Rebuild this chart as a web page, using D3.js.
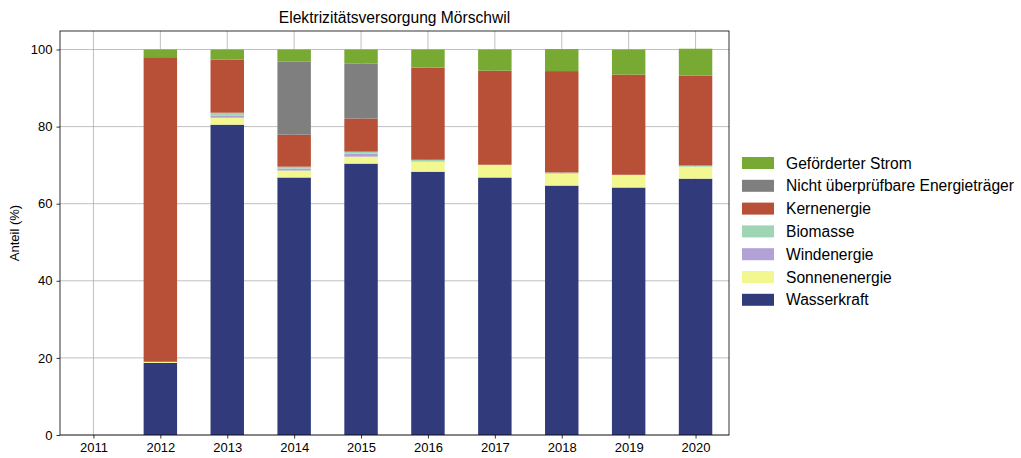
<!DOCTYPE html>
<html>
<head>
<meta charset="utf-8">
<script src="https://cdn.jsdelivr.net/npm/d3@7"></script>
<style>
  body { margin: 0; background: #fff; }
  text { font-family: "Liberation Sans", Arial, sans-serif; fill: #000; }
</style>
</head>
<body>
<svg id="chart"></svg>
<script>
const years = ["2011", "2012", "2013", "2014", "2015", "2016", "2017", "2018", "2019", "2020"];
const seriesNames = ["Wasserkraft", "Sonnenenergie", "Windenergie", "Biomasse", "Kernenergie", "Nicht überprüfbare Energieträger", "Geförderter Strom"];
const seriesColors = ["#313b7c", "#f2f78f", "#b2a1d5", "#9ed6b5", "#b84f37", "#7f7f7f", "#77a933"];

const wasserkraft   = [0, 18.7, 80.5, 66.8, 70.4, 68.3, 66.8, 64.7, 64.2, 66.5];
const sonnenenergie = [0, 0.3, 1.8, 1.8, 1.8, 2.6, 3.3, 3.1, 3.3, 3.1];
const windenergie   = [0, 0, 0.6, 0.5, 0.8, 0, 0, 0, 0, 0];
const biomasse      = [0, 0, 0.7, 0.5, 0.5, 0.5, 0, 0.3, 0, 0.3];
const kernenergie   = [0, 79.0, 13.8, 8.3, 8.6, 23.9, 24.4, 26.3, 26.0, 23.3];
const nichtUeberpr  = [0, 0, 0, 19.0, 14.3, 0, 0, 0, 0, 0];
const gefoerdert    = [0, 2.0, 2.6, 3.1, 3.6, 4.7, 5.5, 5.7, 6.5, 7.0];
const yTicks = [0, 20, 40, 60, 80, 100];

const seriesValues = [wasserkraft, sonnenenergie, windenergie, biomasse, kernenergie, nichtUeberpr, gefoerdert];

const W = 1021, H = 458;
const margin = { top: 31, right: 292, bottom: 23, left: 60 },
    width = W - margin.left - margin.right,
    height = H - margin.top - margin.bottom;

const root = d3.select("#chart").attr("width", W).attr("height", H);
const svg = root.append("g")
    .attr("transform", "translate(" + margin.left + "," + margin.top + ")");

// build rows for stacking
const rows = years.map((yr, i) => {
    const r = { year: yr };
    seriesNames.forEach((s, k) => { r[s] = seriesValues[k][i]; });
    return r;
});
const stacked = d3.stack().keys(seriesNames)(rows);

const x = d3.scalePoint().domain(years).range([0, width]).padding(0.5);
const barW = x.step() * 0.5;
const y = d3.scaleLinear().domain([0, 104.8]).range([height, 0]);

// grid
svg.append("g").selectAll("line").data(years).enter().append("line")
    .attr("x1", d => x(d)).attr("x2", d => x(d))
    .attr("y1", 0).attr("y2", height)
    .attr("stroke", "#b0b0b0").attr("stroke-width", 0.8);
svg.append("g").selectAll("line").data(yTicks).enter().append("line")
    .attr("x1", 0).attr("x2", width)
    .attr("y1", d => y(d)).attr("y2", d => y(d))
    .attr("stroke", "#b0b0b0").attr("stroke-width", 0.8);

// bars
svg.append("g").selectAll("g")
    .data(stacked)
    .enter().append("g")
    .attr("fill", (d, i) => seriesColors[i])
    .selectAll("rect")
    .data(d => d)
    .enter().append("rect")
    .attr("x", d => x(d.data.year) - barW / 2)
    .attr("width", barW)
    .attr("y", d => y(d[1]))
    .attr("height", d => Math.max(0, y(d[0]) - y(d[1])));

// axes
const xAxis = svg.append("g")
    .attr("transform", "translate(0," + height + ")")
    .call(d3.axisBottom(x).tickSizeInner(3.5).tickSizeOuter(0).tickPadding(4));
const yAxis = svg.append("g")
    .call(d3.axisLeft(y).tickValues(yTicks).tickSizeInner(3.5).tickSizeOuter(0).tickPadding(4));
[xAxis, yAxis].forEach(a => {
    a.select(".domain").remove();
    a.selectAll("line").attr("stroke", "#000").attr("stroke-width", 0.8);
    a.selectAll("text").attr("font-size", "13px").attr("font-family", "Liberation Sans, Arial, sans-serif");
});

svg.append("rect")
    .attr("x", 0).attr("y", 0).attr("width", width).attr("height", height)
    .attr("fill", "none").attr("stroke", "#000").attr("stroke-width", 0.8);

// title
svg.append("text")
    .attr("x", width / 2).attr("y", -8)
    .attr("text-anchor", "middle")
    .attr("font-size", "15.6px")
    .text("Elektrizitätsversorgung Mörschwil");

// y label
svg.append("text")
    .attr("transform", "translate(" + (-41) + "," + (height / 2) + ") rotate(-90)")
    .attr("text-anchor", "middle")
    .attr("font-size", "13px")
    .text("Anteil (%)");

// legend (reverse order, top = last series)
const legend = root.append("g").attr("transform", "translate(742,157)");
const legendItems = seriesNames.slice().reverse();
const legendColors = seriesColors.slice().reverse();
legendItems.forEach((name, i) => {
    const g = legend.append("g").attr("transform", "translate(0," + (i * 22.8) + ")");
    g.append("rect").attr("width", 32).attr("height", 12).attr("fill", legendColors[i]);
    g.append("text").attr("x", 44).attr("y", 11.5).attr("font-size", "15.6px").text(name);
});
</script>
</body>
</html>
